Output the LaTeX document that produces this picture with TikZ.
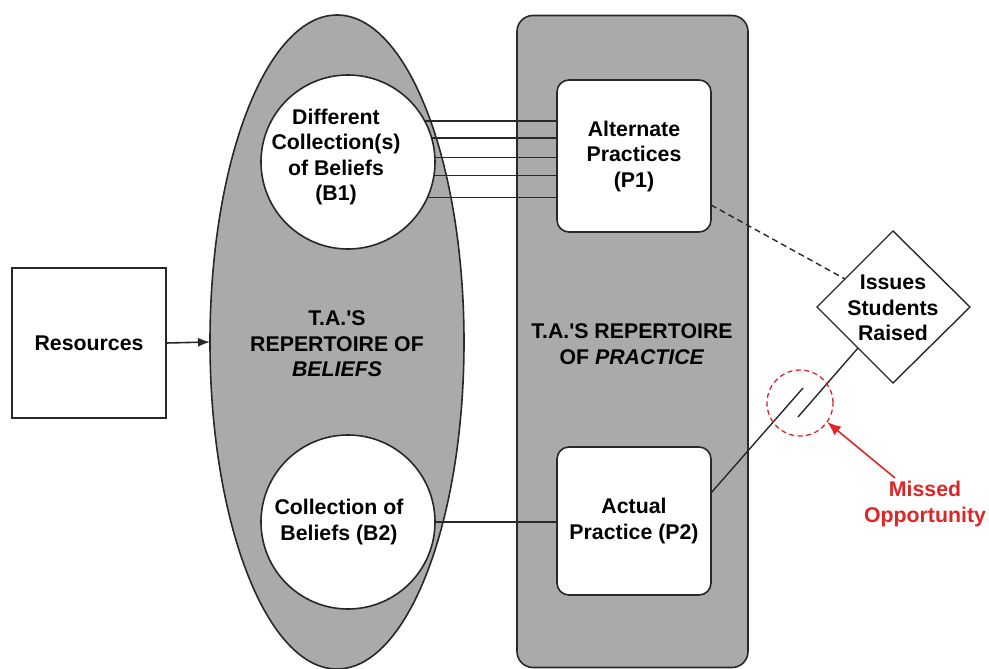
\documentclass[tikz,border=0pt]{standalone}
\usepackage{fontspec}
\setmainfont{Liberation Sans}[Ligatures=TeXOff]
\usetikzlibrary{shapes.geometric,calc,arrows.meta}
\definecolor{shade}{RGB}{170,170,170}
\definecolor{edge}{RGB}{40,40,40}
\definecolor{missred}{RGB}{222,38,38}
\begin{document}
\begin{tikzpicture}[x=1pt,y=-1pt,
  every node/.style={font=\fontsize{21.3}{25.5}\selectfont\bfseries, align=center, outer sep=0pt, inner sep=0pt},
  line/.style={draw=edge, line width=1.6pt},
  boxw/.style={line, fill=white, rounded corners=12pt, minimum width=154pt},
  circ/.style={line, fill=white, circle, minimum size=174pt}]
\useasboundingbox (0,0) rectangle (989,669);
% belief ellipse
\node[line, fill=shade, ellipse, minimum width=254pt, minimum height=654pt] (bel) at (337,342) {};
% practice rounded rectangle
\node[line, fill=shade, rounded corners=16pt, minimum width=231pt, minimum height=652pt] (prac) at (632.5,341.5) {};
% circles
\node[circ] (b1) at (348,162) {};
\node[circ] (b2) at (348,522) {};
\node (b1t) at (336,157) {Different\\Collection(s)\\of Beliefs\\(B1)};
\node (b2t) at (339,522) {Collection of\\Beliefs (B2)};
% labels in big shapes
\node (belt) at (337,344) {T.A.'S\\REPERTOIRE OF\\\textit{BELIEFS}};
\node (pract) at (632,344) {T.A.'S REPERTOIRE\\OF \textit{PRACTICE}};
% practice boxes
\node[boxw, minimum height=152pt] (p1) at (634,156) {Alternate\\Practices\\(P1)};
\node[boxw, minimum height=148pt] (p2) at (634,521) {Actual\\Practice (P2)};
% resources
\node[line, fill=white, minimum width=154pt, minimum height=150pt] (res) at (89,343) {Resources};
% diamond
\coordinate (dt) at (893,231);
\coordinate (dr) at (970,307);
\coordinate (db) at (893,383);
\coordinate (dl) at (817,307);
\draw[line, line width=1.4pt] (dt) -- (dr) -- (db) -- (dl) -- cycle;
\node (iss) at (893,308) {Issues\\Students\\Raised};
% arrow resources -> beliefs
\draw[line, -{Latex[length=12pt,width=9pt]}] (res.east) -- (bel.west);
% five lines B1 -> P1
\foreach \a in {28.9,16,3.3,-9.9,-24.4}{
  \draw[line, line width=1.6pt] (b1.\a) -- (b1.\a -| p1.west);
}
% B2 -> P2
\draw[line, line width=1.6pt] (b2.east) -- (b2.east -| p2.west);
% dashed P1 -> issues
\coordinate (dstart) at ($(p1.east)+(0,49)$);
\coordinate (dend) at (845,279);
\draw[line, line width=1.4pt, dashed, dash pattern=on 6pt off 4pt] (dstart) -- (dend);
% broken line P2 -> issues
\coordinate (ps) at ($(p2.east)+(0,-28)$);
\coordinate (ba) at (803,388);
\coordinate (bb) at (798,417);
\coordinate (be) at (858,348);
\draw[line, line width=1.4pt] (ps) -- (ba);
\draw[line, line width=1.4pt] (bb) -- (be);
% missed opportunity
\node[draw=missred, line width=1.3pt, dashed, dash pattern=on 5pt off 3.5pt, circle, minimum size=66pt] (mc) at (800,403) {};
\node[text=missred] (mt) at (925,504) {Missed\\Opportunity};
\coordinate (mtail) at (895,478);
\draw[draw=missred, line width=1.6pt, -{Latex[length=14pt,width=11pt]}] (mtail) -- (mc.-35);
\end{tikzpicture}
\end{document}
